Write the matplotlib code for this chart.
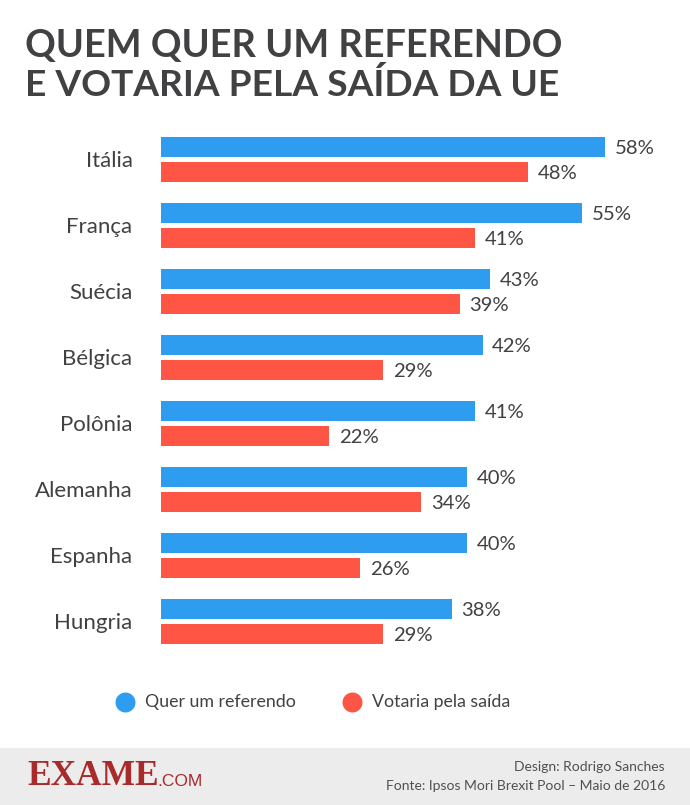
#!/usr/bin/env python3
import matplotlib
matplotlib.use('Agg')
import matplotlib.pyplot as plt
from matplotlib.patches import Rectangle
from matplotlib.transforms import ScaledTranslation

countries=['Itália', 'França', 'Suécia', 'Bélgica',
           'Polônia', 'Alemanha', 'Espanha', 'Hungria']
referendo=[58, 55, 43, 42, 41, 40, 40, 38]
saida=[48, 41, 39, 29, 22, 34, 26, 29]
names=['Quer um referendo', 'Votaria pela saída']

BLUE='#2E9DEF'
RED='#FF5544'
DARK='#414042'
W, H=690, 805

plt.rcParams['font.family']=['Lato', 'Open Sans', 'DejaVu Sans']

fig=plt.figure(figsize=(W/100, H/100), dpi=100, facecolor='white')

# overlay axes in pixel coords, for everything outside the bars
bg=fig.add_axes([0, 0, 1, 1])
bg.set_xlim(0, W)
bg.set_ylim(H, 0)
bg.axis('off')

bg.text(25, 46, 'QUEM QUER UM REFERENDO', fontsize=27.35, fontweight='bold',
        color=DARK, va='center', ha='left')
bg.text(25, 85, 'E VOTARIA PELA SAÍDA DA UE', fontsize=26.7, fontweight='bold',
        color=DARK, va='center', ha='left')

# footer
bg.add_patch(Rectangle((0, 748), W, 57, color='#ECECEC', lw=0))
bg.text(27, 776, 'EXAME', fontsize=25.5, fontweight='bold', family='Liberation Serif',
        color='#A82A2A', va='center', ha='left')
bg.text(157, 781, '.COM', fontsize=12.5, color='#A82A2A', va='center', ha='left',
        family='Liberation Sans')
bg.text(665, 767, 'Design: Rodrigo Sanches', fontsize=10, color='#505050',
        va='center', ha='right')
bg.text(665, 786, 'Fonte: Ipsos Mori Brexit Pool – Maio de 2016', fontsize=10,
        color='#505050', va='center', ha='right')

# legend
for x, c, name in zip([125, 352], [BLUE, RED], names):
    bg.scatter([x], [702], s=207, color=c, lw=0)
    bg.text(x+20, 702, name, fontsize=12.8, color=DARK, va='center', ha='left')

# bars
ax=fig.add_axes([161/W, 1-654.5/H, (W-161)/W, 528/H])
ax.patch.set_alpha(0)
ypos=list(range(len(countries)))
ax.barh([y-0.189 for y in ypos], referendo, height=0.303, color=BLUE)
ax.barh([y+0.189 for y in ypos], saida, height=0.303, color=RED)
ax.set_xlim(0, (W-161)/7.655)
ax.set_ylim(7.5, -0.5)

for y, a, b in zip(ypos, referendo, saida):
    ax.text(a+1.25, y-0.172, '%d%%' % a, fontsize=14.6, color=DARK, va='center')
    ax.text(b+1.25, y+0.206, '%d%%' % b, fontsize=14.6, color=DARK, va='center')

ax.set_yticks(ypos)
ax.set_yticklabels(countries, fontsize=16, color=DARK)
ax.tick_params(axis='y', length=0, pad=20.5)
# labels sit a little above the group centre
shift=ScaledTranslation(0, 0.7/100, fig.dpi_scale_trans)
for lab in ax.get_yticklabels():
    lab.set_transform(lab.get_transform()+shift)
ax.set_xticks([])
for s in ax.spines.values():
    s.set_visible(False)

fig.savefig('out.png', dpi=100)
